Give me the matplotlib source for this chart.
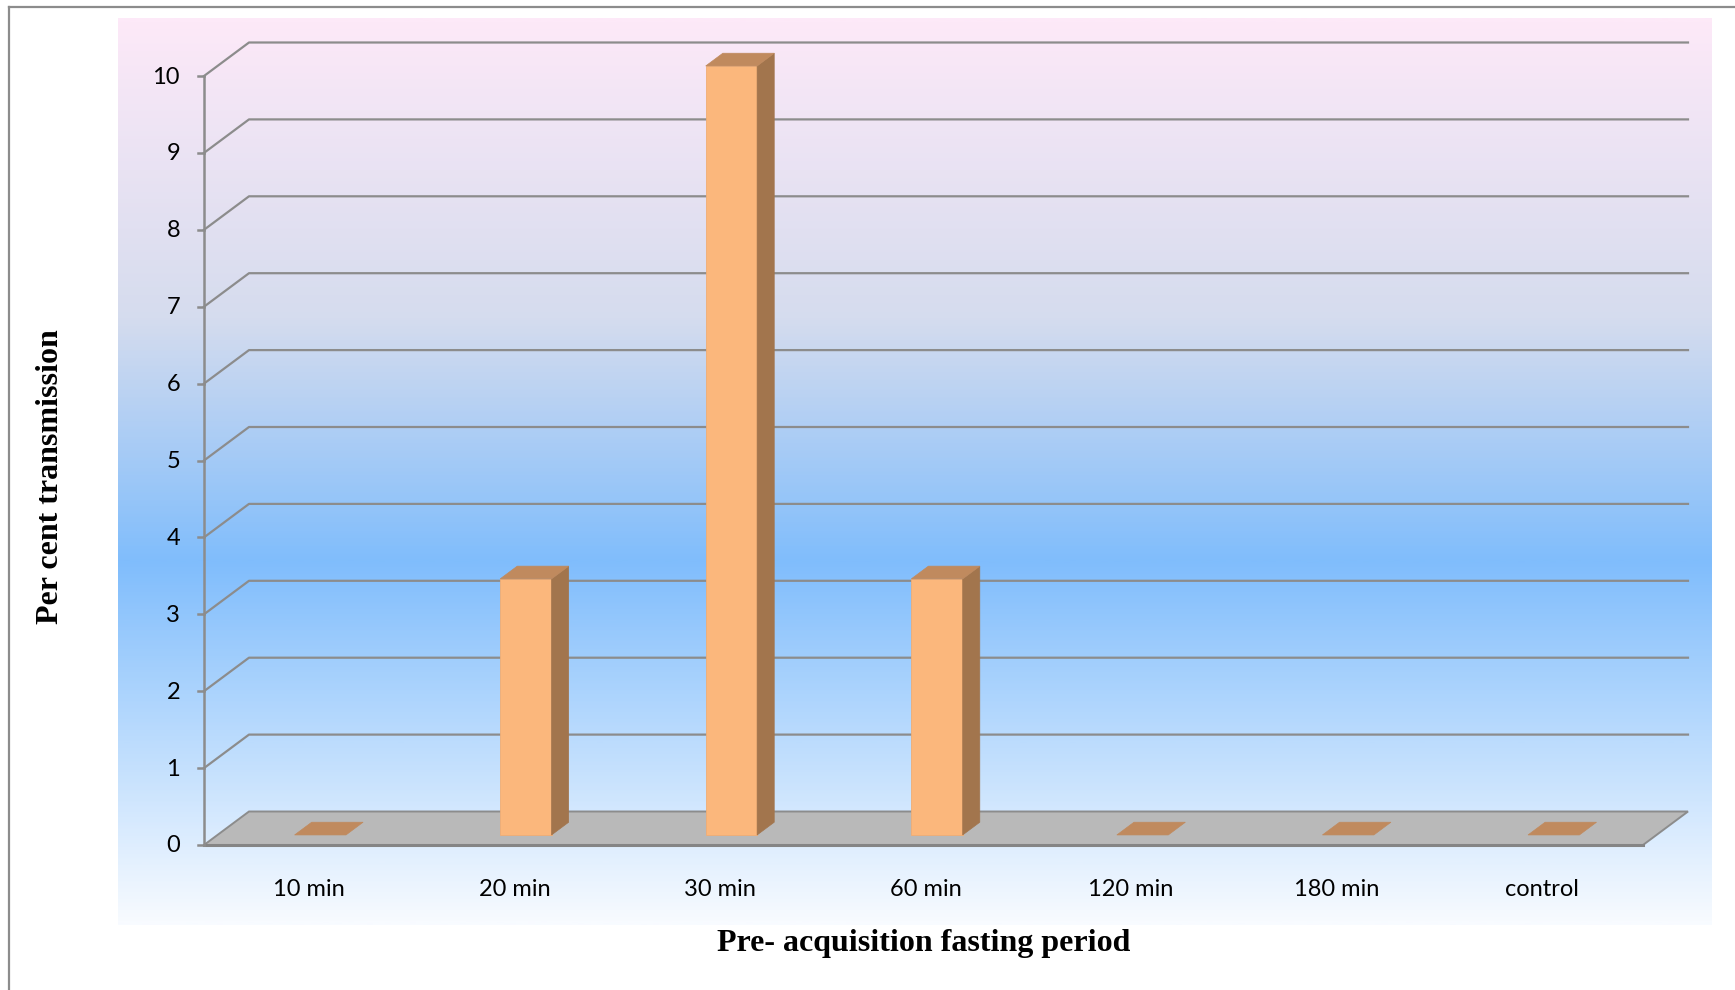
import numpy as np
import matplotlib
matplotlib.use("Agg")
import matplotlib.pyplot as plt
from matplotlib.patches import Polygon
from matplotlib.lines import Line2D
from matplotlib.transforms import IdentityTransform
from matplotlib.colors import LinearSegmentedColormap

# ---- data -------------------------------------------------------------
categories = ["10 min", "20 min", "30 min", "60 min", "120 min", "180 min", "control"]
transmission = [0, 3.33, 10, 3.33, 0, 0, 0]
y_ticks = list(range(0, 11))

x_title = "Pre- acquisition fasting period"
y_title = "Per cent transmission"

# ---- figure ------------------------------------------------------------
W, H, DPI = 1735, 990, 100
fig = plt.figure(figsize=(W / DPI, H / DPI), dpi=DPI)
fig.patch.set_facecolor("white")

# gradient plot-area panel
bg = fig.add_axes([118 / W, 1 - 925 / H, (1711 - 118) / W, (925 - 18) / H])
panel_cmap = LinearSegmentedColormap.from_list(
    "panel",
    [(0.0, "#FDE9F8"), (0.33, "#D5DCEE"), (0.60, "#80BDFC"), (1.0, "#F8FBFF")],
)
bg.imshow(np.linspace(0, 1, 600)[:, None], cmap=panel_cmap, aspect="auto",
          extent=[0, 1, 0, 1], interpolation="bilinear")
bg.axis("off")
bg.set_zorder(0)

# main axes: x in category units, y in value units (front plane)
ax = fig.add_axes([204 / W, 145 / H, (1643 - 204) / W, 769 / H])
ax.set_xlim(-0.5, len(categories) - 0.5)
ax.set_ylim(0, 10)
ax.axis("off")
ax.set_zorder(1)

DEPTH = np.array([45.0, 33.5])   # oblique depth offset in pixels
ID = IdentityTransform()
GRID = "#8c8c8c"


def P(x, v, d=0.0):
    """Project (category x, value v, depth d in 0..1) to display pixels."""
    return ax.transData.transform((x, v)) + d * DEPTH


def line(points, **kw):
    pts = np.array(points)
    ax.add_line(Line2D(pts[:, 0], pts[:, 1], transform=ID, clip_on=False, **kw))


def poly(points, **kw):
    ax.add_patch(Polygon(np.array(points), closed=True, transform=ID,
                         clip_on=False, **kw))


x_lo, x_hi = -0.5, len(categories) - 0.5

# back-wall / side-wall gridlines
for v in y_ticks[1:]:
    line([P(x_lo, v, 0), P(x_lo, v, 1), P(x_hi, v, 1)],
         color=GRID, lw=1.6, zorder=2)

# floor
poly([P(x_lo, 0, 0), P(x_hi, 0, 0), P(x_hi, 0, 1), P(x_lo, 0, 1)],
     facecolor="#b9b9b9", edgecolor=GRID, lw=1.4, zorder=3)
line([P(x_lo, 0, 0), P(x_hi, 0, 0)], color="#858585", lw=2.2, zorder=4)

# bars
FRONT, SIDE, TOP = "#FBB77C", "#A2754D", "#C08A5E"
half_w, d0, d1 = 0.125, 0.30, 0.68
for i, v in enumerate(transmission):
    x0, x1 = i - half_w, i + half_w
    if v > 0:
        poly([P(x0, 0, d0), P(x1, 0, d0), P(x1, v, d0), P(x0, v, d0)],
             facecolor=FRONT, edgecolor="#f0ad74", lw=0.6, zorder=5)
        poly([P(x1, 0, d0), P(x1, 0, d1), P(x1, v, d1), P(x1, v, d0)],
             facecolor=SIDE, edgecolor=SIDE, lw=0.5, zorder=5)
    poly([P(x0, v, d0), P(x1, v, d0), P(x1, v, d1), P(x0, v, d1)],
         facecolor=TOP, edgecolor=TOP, lw=0.5, zorder=5)

# value axis with tick marks and labels
line([P(x_lo, 0, 0), P(x_lo, 10, 0)], color=GRID, lw=1.8, zorder=6)
tick_font = dict(family=["Lato", "DejaVu Sans"], size=17, color="black")
for v in y_ticks:
    base = P(x_lo, v, 0)
    line([base + (-6, 0), base], color=GRID, lw=1.8, zorder=6)
    tx, ty = base + (-24, -1)
    ax.text(tx, ty, str(v), transform=ID, ha="right", va="center", **tick_font)

# category labels
for i, name in enumerate(categories):
    tx, ty = P(i, 0, 0) + (2, -45)
    ax.text(tx, ty, name, transform=ID, ha="center", va="center", **tick_font)

# axis titles
title_font = dict(family=["Liberation Serif", "DejaVu Serif"], weight="bold",
                  size=23, color="black")
fig.text(50 / W, 1 - 477 / H, y_title, rotation=90, ha="center", va="center",
         **title_font)
fig.text(924 / W, 1 - 944 / H, x_title, ha="center", va="center", **title_font)

# outer chart frame
fig.add_artist(Line2D([9 / W, 9 / W], [0, 1 - 7 / H], transform=fig.transFigure,
                      color="#8c8c8c", lw=1.6))
fig.add_artist(Line2D([9 / W, 1], [1 - 7 / H, 1 - 7 / H], transform=fig.transFigure,
                      color="#8c8c8c", lw=1.6))

fig.savefig("out.png", dpi=DPI)
